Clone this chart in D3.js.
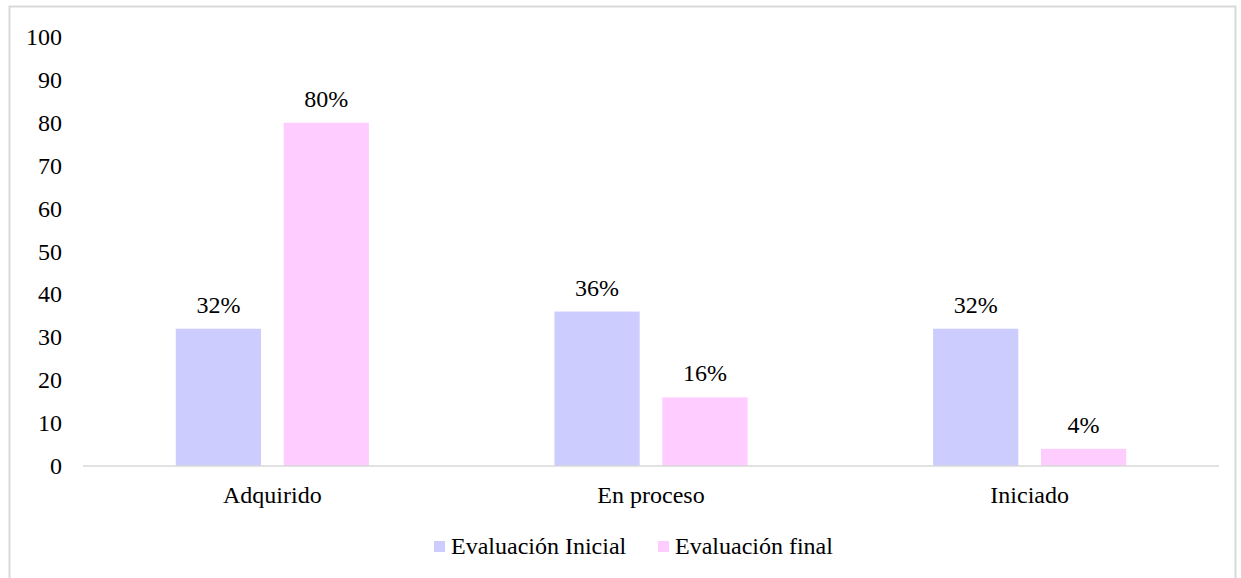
<!DOCTYPE html>
<html>
<head>
<meta charset="utf-8">
<script src="https://cdn.jsdelivr.net/npm/d3@7"></script>
<style>
  body { margin: 0; background: #fff; }
  text { font-family: "Times New Roman", "Liberation Serif", serif; fill: #000; }
</style>
</head>
<body>
<script>
// categories, series and ticks
var categories = ["Adquirido", "En proceso", "Iniciado"];
var seriesNames = ["Evaluación Inicial", "Evaluación final"];
var inicial = [32, 36, 32];
var final = [80, 16, 4];
var yTicks = [0, 10, 20, 30, 40, 50, 60, 70, 80, 90, 100];
var colors = ["#ccccff", "#ffccff"];

var W = 1241, H = 578;
var svg = d3.select("body").append("svg")
    .attr("width", W)
    .attr("height", H);

// outer frame
svg.append("rect")
    .attr("x", 9.5).attr("y", 6.5)
    .attr("width", 1226).attr("height", 580)
    .attr("fill", "none")
    .attr("stroke", "#d9d9d9")
    .attr("stroke-width", 2);

var plotL = 83, plotR = 1219, plotT = 37, plotB = 466;
var fs = "24px";

var x = d3.scaleBand().domain(categories).range([plotL, plotR]);
var y = d3.scaleLinear().domain([0, 100]).range([plotB, plotT]);

var inner = d3.scaleBand().domain([0, 1])
    .range([0, x.bandwidth()])
    .paddingInner(0.21)
    .paddingOuter(0.86);

// y tick labels
svg.selectAll(".ytick")
    .data(yTicks)
    .enter().append("text")
    .attr("class", "ytick")
    .attr("x", 62)
    .attr("y", function(d) { return y(d) + 8; })
    .attr("text-anchor", "end")
    .style("font-size", fs)
    .text(function(d) { return d; });

var rows = [];
categories.forEach(function(c, i) {
  rows.push({cat: c, s: 0, v: inicial[i]});
  rows.push({cat: c, s: 1, v: final[i]});
});

svg.selectAll(".bar")
    .data(rows)
    .enter().append("rect")
    .attr("class", "bar")
    .attr("x", function(d) { return x(d.cat) + inner(d.s); })
    .attr("width", inner.bandwidth())
    .attr("y", function(d) { return y(d.v); })
    .attr("height", function(d) { return plotB - y(d.v); })
    .attr("fill", function(d) { return colors[d.s]; });

svg.selectAll(".lbl")
    .data(rows)
    .enter().append("text")
    .attr("class", "lbl")
    .attr("x", function(d) { return x(d.cat) + inner(d.s) + inner.bandwidth() / 2; })
    .attr("y", function(d) { return y(d.v) - 16; })
    .attr("text-anchor", "middle")
    .style("font-size", fs)
    .text(function(d) { return d.v + "%"; });

// baseline
svg.append("line")
    .attr("x1", plotL).attr("x2", plotR)
    .attr("y1", plotB).attr("y2", plotB)
    .attr("stroke", "#d9d9d9")
    .attr("stroke-width", 1.5);

// category labels
svg.selectAll(".cat")
    .data(categories)
    .enter().append("text")
    .attr("class", "cat")
    .attr("x", function(d) { return x(d) + x.bandwidth() / 2; })
    .attr("y", 503)
    .attr("text-anchor", "middle")
    .style("font-size", fs)
    .text(function(d) { return d; });

// legend
var legX = [434, 658];
var leg = svg.selectAll(".leg")
    .data(seriesNames)
    .enter().append("g")
    .attr("class", "leg")
    .attr("transform", function(d, i) { return "translate(" + legX[i] + ",0)"; });
leg.append("rect")
    .attr("x", 0).attr("y", 541)
    .attr("width", 11).attr("height", 11)
    .attr("fill", function(d, i) { return colors[i]; });
leg.append("text")
    .attr("x", 17).attr("y", 554)
    .style("font-size", fs)
    .text(function(d) { return d; });
</script>
</body>
</html>
